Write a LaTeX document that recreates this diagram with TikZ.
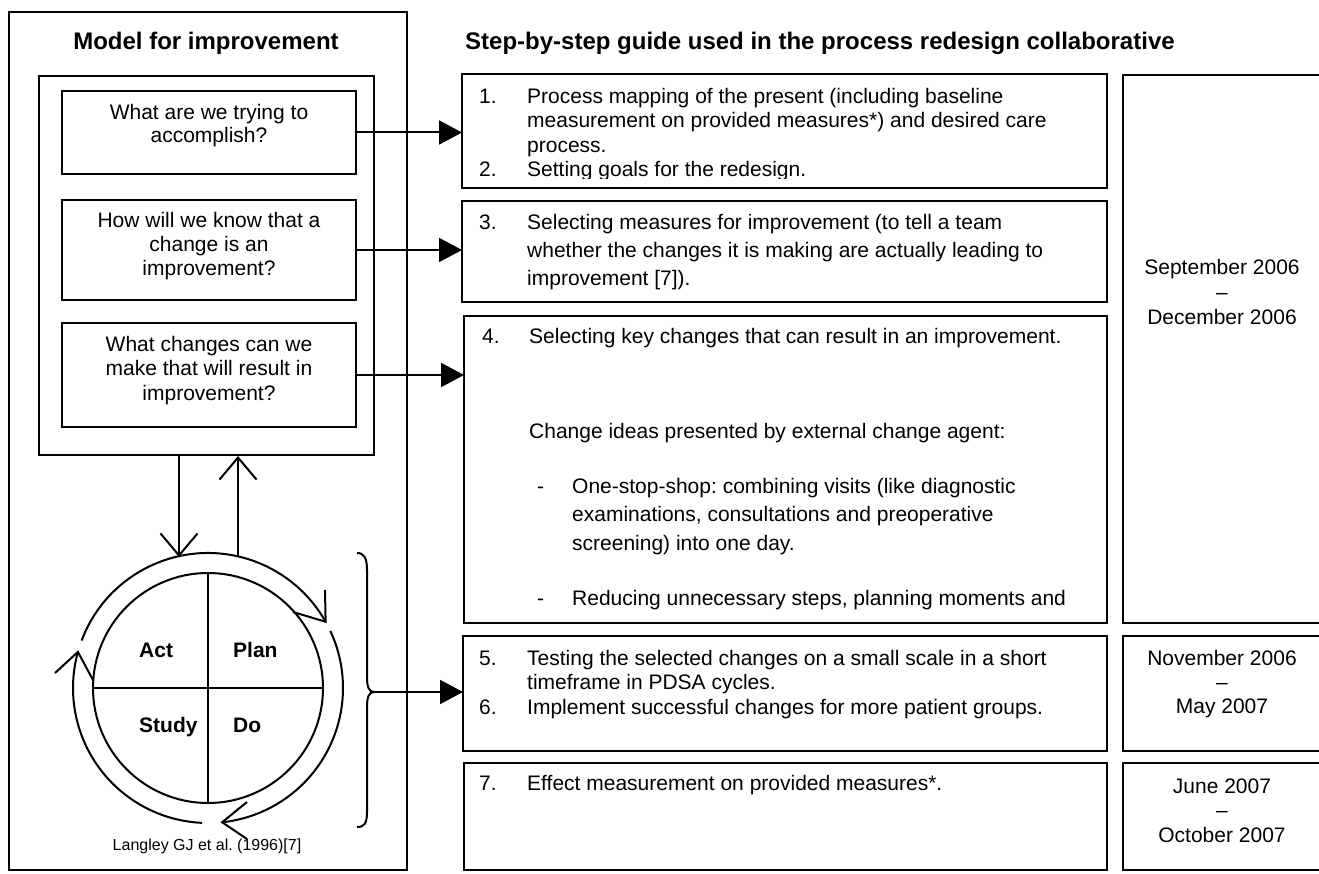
\documentclass[tikz,border=0pt]{standalone}
\usepackage{fontspec}
\setmainfont{Liberation Sans}
\usetikzlibrary{arrows.meta}
\frenchspacing
\begin{document}
\begin{tikzpicture}[x=1pt,y=-1pt,
  panel/.style={draw, rectangle, line width=2.6pt, inner sep=0pt, outer sep=0pt},
  body/.style={inner sep=0pt, anchor=base west, font=\fontsize{21}{#1}\selectfont},
  body/.default=24.5,
  ctext/.style={inner sep=0pt, anchor=base, font=\fontsize{21}{#1}\selectfont},
  ctext/.default=24,
  head/.style={inner sep=0pt, font=\fontsize{24}{28}\selectfont\bfseries},
  phase/.style={inner sep=0pt, anchor=base west, font=\fontsize{21}{24}\selectfont\bfseries},
  pointer/.style={line width=2pt, -{Triangle[length=23pt,width=24pt]}},
  barb/.style={line width=2pt, -{Straight Barb[length=22pt,width=37pt]}},
  ring/.style={line width=2pt, line join=miter},
]
\useasboundingbox (0,0) rectangle (1319,874);

% ---------- Model for improvement ----------
\node[panel, minimum width=398pt, minimum height=858pt] (model) at (208,441) {};
\node[head, anchor=base] (modeltitle) at (206,49.5) {Model for improvement};
\node[panel, minimum width=335pt, minimum height=379pt] (questions) at (206.5,265.5) {};
\node[panel, minimum width=294pt, minimum height=83pt] (q1) at (209,132.5) {};
\node[panel, minimum width=294pt, minimum height=100pt] (q2) at (209,250) {};
\node[panel, minimum width=294pt, minimum height=104pt] (q3) at (209,375) {};
\node[ctext=23] (q1t) at (209,120) {\parbox[t]{290pt}{\centering What are we trying to\\accomplish?}};
\node[ctext=24] (q2t) at (209,228) {\parbox[t]{290pt}{\centering How will we know that a\\change is an\\improvement?}};
\node[ctext=24] (q3t) at (209,352) {\parbox[t]{290pt}{\centering What changes can we\\make that will result in\\improvement?}};

% PDSA cycle
\node[draw, circle, line width=2pt, minimum size=230pt, inner sep=0pt, outer sep=0pt] (pdsa) at (208,688) {};
\draw[line width=2pt] (pdsa.west) -- (pdsa.east) (pdsa.north) -- (pdsa.south);
\node[phase] (act) at (139,657) {Act};
\node[phase] (plan) at (233,657) {Plan};
\node[phase] (study) at (139,732) {Study};
\node[phase] (do) at (233,732) {Do};

\begin{scope}[shift={(pdsa.center)}, x=1pt, y=1pt, ring]
  \draw (159.4:135pt) arc[start angle=159.4, end angle=29.4, radius=135pt];
  \draw (85pt,76pt) -- (29.4:135pt) -- (117pt,98pt);
  \draw (25:135pt) arc[start angle=25, end angle=-84, radius=135pt];
  \draw (39pt,-114pt) -- (-84:135pt) -- (39pt,-151pt);
  \draw (-92.5:135pt) arc[start angle=-92.5, end angle=-195.5, radius=135pt];
  \draw (-153pt,15pt) -- (-195.5:135pt) -- (-115pt,8pt);
\end{scope}

% links between the questions and the cycle
\coordinate (down0) at (179,455);
\coordinate (down1) at (179,557);
\coordinate (up0) at (238,557);
\coordinate (up1) at (238,456);
\draw[barb] (down0) -- (down1);
\draw[barb] (up0) -- (up1);

% brace gathering the cycle
\coordinate (bracetip) at (374,692);
\draw[line width=2pt] (357,553) .. controls (364,553) and (367,558) .. (367,570)
  -- (367,677) .. controls (367,687) and (369,692) .. (bracetip)
  .. controls (369,692) and (367,697) .. (367,707)
  -- (367,812) .. controls (367,824) and (364,827) .. (357,827);

\node[inner sep=0pt, anchor=base, font=\fontsize{16}{19}\selectfont] (cite) at (207,850) {Langley GJ et al. (1996)[7]};

% ---------- Step-by-step guide ----------
\node[head, anchor=base west] (guidetitle) at (465,49.5) {Step-by-step guide used in the process redesign collaborative};

\node[panel, minimum width=645pt, minimum height=114pt] (s1) at (784.5,131) {};
\node[panel, minimum width=645pt, minimum height=101pt] (s2) at (784.5,251.5) {};
\node[panel, minimum width=643pt, minimum height=307pt] (s3) at (785.5,469.5) {};
\node[panel, minimum width=644pt, minimum height=115pt] (s4) at (785,693.5) {};
\node[panel, minimum width=643pt, minimum height=107pt] (s5) at (785.5,816.5) {};

\node[panel, minimum width=199pt, minimum height=548pt] (d1) at (1222.5,349) {};
\node[panel, minimum width=199pt, minimum height=115pt] (d2) at (1222.5,693.5) {};
\node[panel, minimum width=199pt, minimum height=107pt] (d3) at (1222.5,816.5) {};

\begin{scope}
  \clip (462,74) rectangle (1107,179);
  \node[body=24.5] (item1) at (479,103.5) {\parbox[t]{620pt}{\raggedright
    \makebox[48pt][l]{1.}Process mapping of the present (including baseline\\
    \hspace*{48pt}measurement on provided measures*) and desired care\\
    \hspace*{48pt}process.\\
    \makebox[48pt][l]{2.}Setting goals for the redesign.}};
\end{scope}

\node[body=28] (item3) at (479,230) {\parbox[t]{620pt}{\raggedright
  \makebox[48pt][l]{3.}Selecting measures for improvement (to tell a team\\
  \hspace*{48pt}whether the changes it is making are actually leading to\\
  \hspace*{48pt}improvement [7]).}};

\node[body] (item4) at (482,344) {\makebox[47pt][l]{4.}Selecting key changes that can result in an improvement.};
\node[body] (ideas) at (529,438) {Change ideas presented by external change agent:};
\node[body=28.5] (idea1) at (537,493) {\parbox[t]{560pt}{\raggedright
  \makebox[35pt][l]{-}One-stop-shop: combining visits (like diagnostic\\
  \hspace*{35pt}examinations, consultations and preoperative\\
  \hspace*{35pt}screening) into one day.}};
\node[body] (idea2) at (537,605) {\makebox[35pt][l]{-}Reducing unnecessary steps, planning moments and};

\node[body=24.5] (item5) at (479,665) {\parbox[t]{620pt}{\raggedright
  \makebox[48pt][l]{5.}Testing the selected changes on a small scale in a short\\
  \hspace*{48pt}timeframe in PDSA cycles.\\
  \makebox[48pt][l]{6.}Implement successful changes for more patient groups.}};
\node[body] (item7) at (479,790) {\makebox[48pt][l]{7.}Effect measurement on provided measures*.};

\node[ctext=25] (d1t) at (1222,275) {\parbox[t]{190pt}{\centering September 2006\\\textendash\\December 2006}};
\node[ctext=24] (d2t) at (1222,665) {\parbox[t]{190pt}{\centering November 2006\\\textendash\\May 2007}};
\node[ctext=24.5] (d3t) at (1222,793) {\parbox[t]{190pt}{\centering June 2007\\\textendash\\October 2007}};

% arrows from the model to the guide
\draw[pointer] (q1.east) -- (q1.east -| s1.west);
\draw[pointer] (q2.east) -- (q2.east -| s2.west);
\draw[pointer] (q3.east) -- (q3.east -| s3.west);
\draw[pointer] (bracetip) -- (bracetip -| s4.west);
\end{tikzpicture}
\end{document}
